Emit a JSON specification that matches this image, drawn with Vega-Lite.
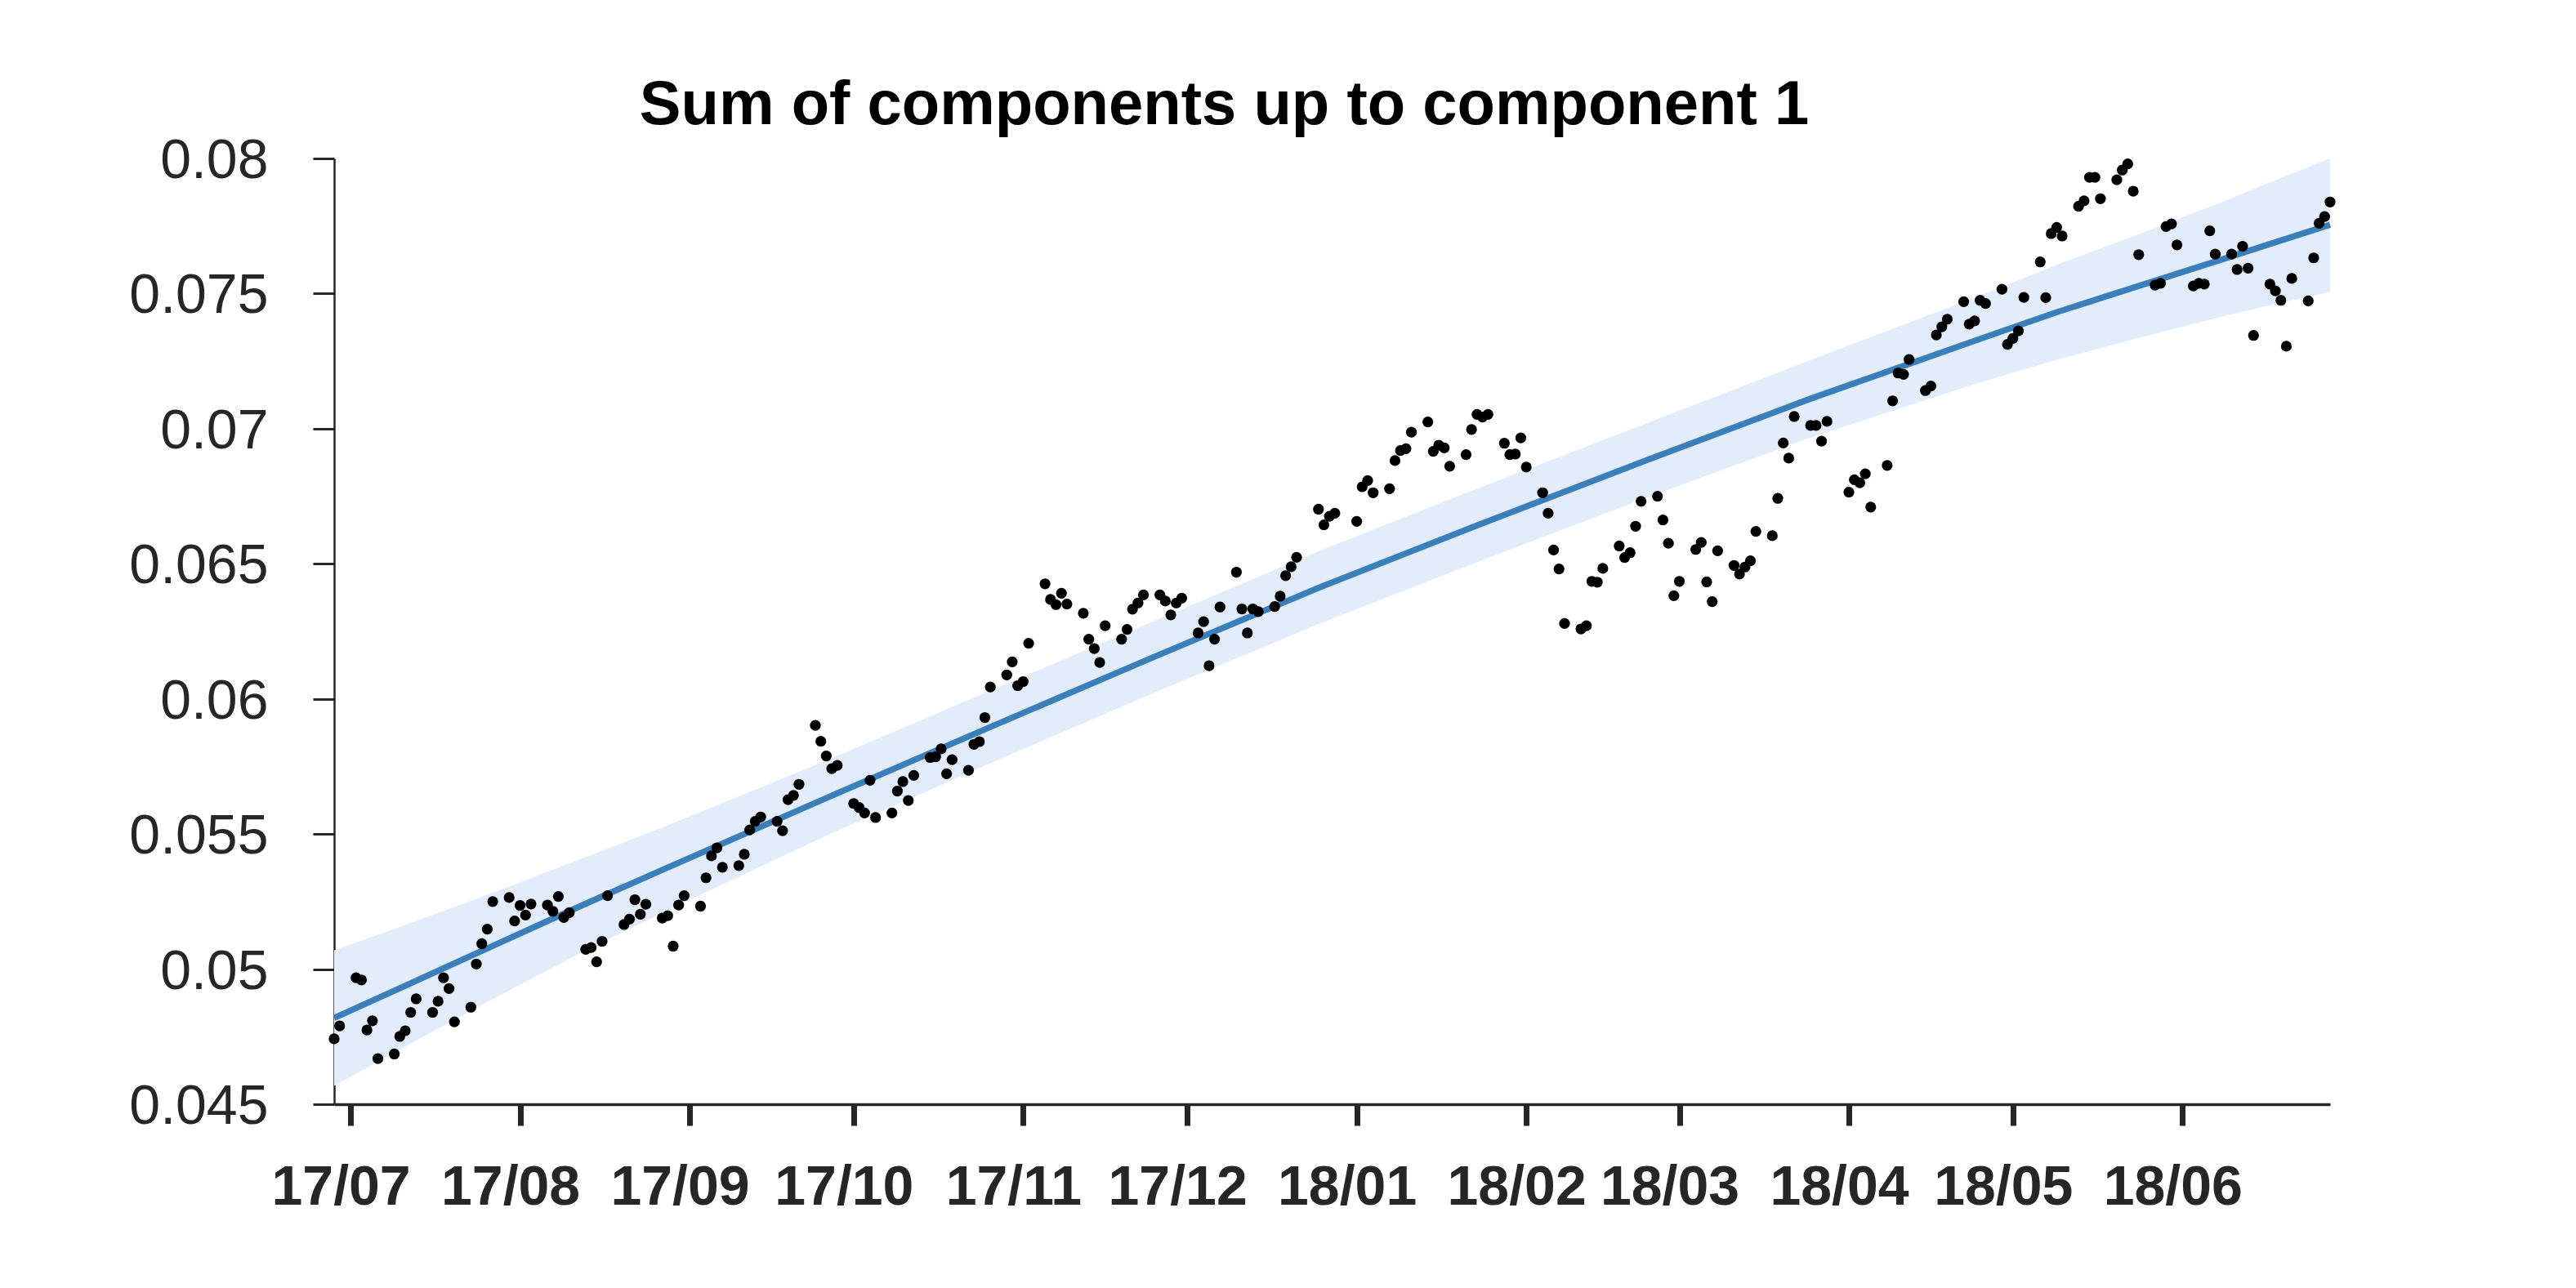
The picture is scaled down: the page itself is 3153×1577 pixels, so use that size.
{
  "$schema": "https://vega.github.io/schema/vega-lite/v6.json",
  "width": 2443,
  "height": 1158,
  "autosize": {"type": "none"},
  "padding": {"left": 409, "top": 194, "right": 301, "bottom": 225},
  "background": "white",
  "config": {"view": {"stroke": null}},
  "title": {
    "text": "Sum of components up to component 1",
    "font": "Liberation Sans",
    "fontSize": 76,
    "fontWeight": "bold",
    "color": "#000000",
    "anchor": "middle",
    "frame": "group",
    "dx": -132,
    "dy": 74,
    "baseline": "alphabetic",
    "offset": 10
  },
  "datasets": {
    "points": [
      {"date": "2017-06-28", "value": 0.04742},
      {"date": "2017-06-29", "value": 0.04790},
      {"date": "2017-07-02", "value": 0.04968},
      {"date": "2017-07-03", "value": 0.04960},
      {"date": "2017-07-04", "value": 0.04775},
      {"date": "2017-07-05", "value": 0.04809},
      {"date": "2017-07-06", "value": 0.04669},
      {"date": "2017-07-09", "value": 0.04686},
      {"date": "2017-07-10", "value": 0.04751},
      {"date": "2017-07-11", "value": 0.04772},
      {"date": "2017-07-12", "value": 0.04840},
      {"date": "2017-07-13", "value": 0.04890},
      {"date": "2017-07-16", "value": 0.04840},
      {"date": "2017-07-17", "value": 0.04881},
      {"date": "2017-07-18", "value": 0.04968},
      {"date": "2017-07-19", "value": 0.04928},
      {"date": "2017-07-20", "value": 0.04805},
      {"date": "2017-07-23", "value": 0.04859},
      {"date": "2017-07-24", "value": 0.05019},
      {"date": "2017-07-25", "value": 0.05094},
      {"date": "2017-07-26", "value": 0.05148},
      {"date": "2017-07-27", "value": 0.05250},
      {"date": "2017-07-30", "value": 0.05265},
      {"date": "2017-07-31", "value": 0.05178},
      {"date": "2017-08-01", "value": 0.05236},
      {"date": "2017-08-02", "value": 0.05200},
      {"date": "2017-08-03", "value": 0.05241},
      {"date": "2017-08-06", "value": 0.05237},
      {"date": "2017-08-07", "value": 0.05214},
      {"date": "2017-08-08", "value": 0.05269},
      {"date": "2017-08-09", "value": 0.05191},
      {"date": "2017-08-10", "value": 0.05209},
      {"date": "2017-08-13", "value": 0.05073},
      {"date": "2017-08-14", "value": 0.05080},
      {"date": "2017-08-15", "value": 0.05027},
      {"date": "2017-08-16", "value": 0.05103},
      {"date": "2017-08-17", "value": 0.05272},
      {"date": "2017-08-20", "value": 0.05165},
      {"date": "2017-08-21", "value": 0.05185},
      {"date": "2017-08-22", "value": 0.05257},
      {"date": "2017-08-23", "value": 0.05203},
      {"date": "2017-08-24", "value": 0.05240},
      {"date": "2017-08-27", "value": 0.05189},
      {"date": "2017-08-28", "value": 0.05198},
      {"date": "2017-08-29", "value": 0.05085},
      {"date": "2017-08-30", "value": 0.05237},
      {"date": "2017-08-31", "value": 0.05272},
      {"date": "2017-09-03", "value": 0.05233},
      {"date": "2017-09-04", "value": 0.05338},
      {"date": "2017-09-05", "value": 0.05419},
      {"date": "2017-09-06", "value": 0.05449},
      {"date": "2017-09-07", "value": 0.05377},
      {"date": "2017-09-10", "value": 0.05383},
      {"date": "2017-09-11", "value": 0.05425},
      {"date": "2017-09-12", "value": 0.05515},
      {"date": "2017-09-13", "value": 0.05547},
      {"date": "2017-09-14", "value": 0.05563},
      {"date": "2017-09-17", "value": 0.05547},
      {"date": "2017-09-18", "value": 0.05512},
      {"date": "2017-09-19", "value": 0.05627},
      {"date": "2017-09-20", "value": 0.05643},
      {"date": "2017-09-21", "value": 0.05684},
      {"date": "2017-09-24", "value": 0.05902},
      {"date": "2017-09-25", "value": 0.05843},
      {"date": "2017-09-26", "value": 0.05789},
      {"date": "2017-09-27", "value": 0.05742},
      {"date": "2017-09-28", "value": 0.05754},
      {"date": "2017-10-01", "value": 0.05613},
      {"date": "2017-10-02", "value": 0.05598},
      {"date": "2017-10-03", "value": 0.05578},
      {"date": "2017-10-04", "value": 0.05699},
      {"date": "2017-10-05", "value": 0.05561},
      {"date": "2017-10-08", "value": 0.05578},
      {"date": "2017-10-09", "value": 0.05659},
      {"date": "2017-10-10", "value": 0.05694},
      {"date": "2017-10-11", "value": 0.05624},
      {"date": "2017-10-12", "value": 0.05717},
      {"date": "2017-10-15", "value": 0.05783},
      {"date": "2017-10-16", "value": 0.05786},
      {"date": "2017-10-17", "value": 0.05815},
      {"date": "2017-10-18", "value": 0.05723},
      {"date": "2017-10-19", "value": 0.05775},
      {"date": "2017-10-22", "value": 0.05736},
      {"date": "2017-10-23", "value": 0.05832},
      {"date": "2017-10-24", "value": 0.05842},
      {"date": "2017-10-25", "value": 0.05931},
      {"date": "2017-10-26", "value": 0.06044},
      {"date": "2017-10-29", "value": 0.06089},
      {"date": "2017-10-30", "value": 0.06137},
      {"date": "2017-10-31", "value": 0.06049},
      {"date": "2017-11-01", "value": 0.06064},
      {"date": "2017-11-02", "value": 0.06206},
      {"date": "2017-11-05", "value": 0.06426},
      {"date": "2017-11-06", "value": 0.06368},
      {"date": "2017-11-07", "value": 0.06349},
      {"date": "2017-11-08", "value": 0.06391},
      {"date": "2017-11-09", "value": 0.06351},
      {"date": "2017-11-12", "value": 0.06317},
      {"date": "2017-11-13", "value": 0.06221},
      {"date": "2017-11-14", "value": 0.06186},
      {"date": "2017-11-15", "value": 0.06135},
      {"date": "2017-11-16", "value": 0.06271},
      {"date": "2017-11-19", "value": 0.06221},
      {"date": "2017-11-20", "value": 0.06257},
      {"date": "2017-11-21", "value": 0.06332},
      {"date": "2017-11-22", "value": 0.06355},
      {"date": "2017-11-23", "value": 0.06385},
      {"date": "2017-11-26", "value": 0.06385},
      {"date": "2017-11-27", "value": 0.06362},
      {"date": "2017-11-28", "value": 0.06311},
      {"date": "2017-11-29", "value": 0.06355},
      {"date": "2017-11-30", "value": 0.06373},
      {"date": "2017-12-03", "value": 0.06244},
      {"date": "2017-12-04", "value": 0.06286},
      {"date": "2017-12-05", "value": 0.06123},
      {"date": "2017-12-06", "value": 0.06221},
      {"date": "2017-12-07", "value": 0.06340},
      {"date": "2017-12-10", "value": 0.06469},
      {"date": "2017-12-11", "value": 0.06333},
      {"date": "2017-12-12", "value": 0.06244},
      {"date": "2017-12-13", "value": 0.06333},
      {"date": "2017-12-14", "value": 0.06323},
      {"date": "2017-12-17", "value": 0.06342},
      {"date": "2017-12-18", "value": 0.06380},
      {"date": "2017-12-19", "value": 0.06456},
      {"date": "2017-12-20", "value": 0.06489},
      {"date": "2017-12-21", "value": 0.06524},
      {"date": "2017-12-25", "value": 0.06702},
      {"date": "2017-12-26", "value": 0.06644},
      {"date": "2017-12-27", "value": 0.06676},
      {"date": "2017-12-28", "value": 0.06687},
      {"date": "2018-01-01", "value": 0.06657},
      {"date": "2018-01-02", "value": 0.06785},
      {"date": "2018-01-03", "value": 0.06808},
      {"date": "2018-01-04", "value": 0.06763},
      {"date": "2018-01-07", "value": 0.06778},
      {"date": "2018-01-08", "value": 0.06882},
      {"date": "2018-01-09", "value": 0.06919},
      {"date": "2018-01-10", "value": 0.06926},
      {"date": "2018-01-11", "value": 0.06987},
      {"date": "2018-01-14", "value": 0.07025},
      {"date": "2018-01-15", "value": 0.06916},
      {"date": "2018-01-16", "value": 0.06939},
      {"date": "2018-01-17", "value": 0.06929},
      {"date": "2018-01-18", "value": 0.06861},
      {"date": "2018-01-21", "value": 0.06904},
      {"date": "2018-01-22", "value": 0.06997},
      {"date": "2018-01-23", "value": 0.07053},
      {"date": "2018-01-24", "value": 0.07043},
      {"date": "2018-01-25", "value": 0.07053},
      {"date": "2018-01-28", "value": 0.06946},
      {"date": "2018-01-29", "value": 0.06904},
      {"date": "2018-01-30", "value": 0.06906},
      {"date": "2018-01-31", "value": 0.06966},
      {"date": "2018-02-01", "value": 0.06858},
      {"date": "2018-02-04", "value": 0.06763},
      {"date": "2018-02-05", "value": 0.06687},
      {"date": "2018-02-06", "value": 0.06551},
      {"date": "2018-02-07", "value": 0.06481},
      {"date": "2018-02-08", "value": 0.06279},
      {"date": "2018-02-11", "value": 0.06259},
      {"date": "2018-02-12", "value": 0.06271},
      {"date": "2018-02-13", "value": 0.06435},
      {"date": "2018-02-14", "value": 0.06432},
      {"date": "2018-02-15", "value": 0.06483},
      {"date": "2018-02-18", "value": 0.06566},
      {"date": "2018-02-19", "value": 0.06523},
      {"date": "2018-02-20", "value": 0.06541},
      {"date": "2018-02-21", "value": 0.06639},
      {"date": "2018-02-22", "value": 0.06731},
      {"date": "2018-02-25", "value": 0.06750},
      {"date": "2018-02-26", "value": 0.06662},
      {"date": "2018-02-27", "value": 0.06576},
      {"date": "2018-02-28", "value": 0.06382},
      {"date": "2018-03-01", "value": 0.06435},
      {"date": "2018-03-04", "value": 0.06553},
      {"date": "2018-03-05", "value": 0.06579},
      {"date": "2018-03-06", "value": 0.06433},
      {"date": "2018-03-07", "value": 0.06360},
      {"date": "2018-03-08", "value": 0.06548},
      {"date": "2018-03-11", "value": 0.06494},
      {"date": "2018-03-12", "value": 0.06462},
      {"date": "2018-03-13", "value": 0.06488},
      {"date": "2018-03-14", "value": 0.06511},
      {"date": "2018-03-15", "value": 0.06620},
      {"date": "2018-03-18", "value": 0.06604},
      {"date": "2018-03-19", "value": 0.06742},
      {"date": "2018-03-20", "value": 0.06947},
      {"date": "2018-03-21", "value": 0.06891},
      {"date": "2018-03-22", "value": 0.07045},
      {"date": "2018-03-25", "value": 0.07012},
      {"date": "2018-03-26", "value": 0.07012},
      {"date": "2018-03-27", "value": 0.06954},
      {"date": "2018-03-28", "value": 0.07027},
      {"date": "2018-04-01", "value": 0.06765},
      {"date": "2018-04-02", "value": 0.06811},
      {"date": "2018-04-03", "value": 0.06800},
      {"date": "2018-04-04", "value": 0.06833},
      {"date": "2018-04-05", "value": 0.06710},
      {"date": "2018-04-08", "value": 0.06864},
      {"date": "2018-04-09", "value": 0.07103},
      {"date": "2018-04-10", "value": 0.07206},
      {"date": "2018-04-11", "value": 0.07201},
      {"date": "2018-04-12", "value": 0.07256},
      {"date": "2018-04-15", "value": 0.07141},
      {"date": "2018-04-16", "value": 0.07158},
      {"date": "2018-04-17", "value": 0.07347},
      {"date": "2018-04-18", "value": 0.07377},
      {"date": "2018-04-19", "value": 0.07405},
      {"date": "2018-04-22", "value": 0.07470},
      {"date": "2018-04-23", "value": 0.07387},
      {"date": "2018-04-24", "value": 0.07399},
      {"date": "2018-04-25", "value": 0.07475},
      {"date": "2018-04-26", "value": 0.07463},
      {"date": "2018-04-29", "value": 0.07516},
      {"date": "2018-04-30", "value": 0.07312},
      {"date": "2018-05-01", "value": 0.07334},
      {"date": "2018-05-02", "value": 0.07362},
      {"date": "2018-05-03", "value": 0.07486},
      {"date": "2018-05-06", "value": 0.07617},
      {"date": "2018-05-07", "value": 0.07485},
      {"date": "2018-05-08", "value": 0.07722},
      {"date": "2018-05-09", "value": 0.07745},
      {"date": "2018-05-10", "value": 0.07713},
      {"date": "2018-05-13", "value": 0.07823},
      {"date": "2018-05-14", "value": 0.07843},
      {"date": "2018-05-15", "value": 0.07930},
      {"date": "2018-05-16", "value": 0.07930},
      {"date": "2018-05-17", "value": 0.07851},
      {"date": "2018-05-20", "value": 0.07921},
      {"date": "2018-05-21", "value": 0.07957},
      {"date": "2018-05-22", "value": 0.07980},
      {"date": "2018-05-23", "value": 0.07879},
      {"date": "2018-05-24", "value": 0.07644},
      {"date": "2018-05-27", "value": 0.07531},
      {"date": "2018-05-28", "value": 0.07538},
      {"date": "2018-05-29", "value": 0.07748},
      {"date": "2018-05-30", "value": 0.07758},
      {"date": "2018-05-31", "value": 0.07680},
      {"date": "2018-06-03", "value": 0.07528},
      {"date": "2018-06-04", "value": 0.07538},
      {"date": "2018-06-05", "value": 0.07535},
      {"date": "2018-06-06", "value": 0.07732},
      {"date": "2018-06-07", "value": 0.07646},
      {"date": "2018-06-10", "value": 0.07646},
      {"date": "2018-06-11", "value": 0.07589},
      {"date": "2018-06-12", "value": 0.07675},
      {"date": "2018-06-13", "value": 0.07594},
      {"date": "2018-06-14", "value": 0.07345},
      {"date": "2018-06-17", "value": 0.07535},
      {"date": "2018-06-18", "value": 0.07510},
      {"date": "2018-06-19", "value": 0.07475},
      {"date": "2018-06-20", "value": 0.07305},
      {"date": "2018-06-21", "value": 0.07556},
      {"date": "2018-06-24", "value": 0.07473},
      {"date": "2018-06-25", "value": 0.07632},
      {"date": "2018-06-26", "value": 0.07760},
      {"date": "2018-06-27", "value": 0.07785},
      {"date": "2018-06-28", "value": 0.07839}
    ],
    "fit": [
      {"date": "2017-06-28", "fit": 0.04819, "lower": 0.04568, "upper": 0.05070},
      {"date": "2017-07-13", "fit": 0.04957, "lower": 0.04736, "upper": 0.05178},
      {"date": "2017-07-28", "fit": 0.05095, "lower": 0.04900, "upper": 0.05290},
      {"date": "2017-08-12", "fit": 0.05233, "lower": 0.05059, "upper": 0.05407},
      {"date": "2017-08-27", "fit": 0.05367, "lower": 0.05209, "upper": 0.05524},
      {"date": "2017-09-26", "fit": 0.05633, "lower": 0.05494, "upper": 0.05772},
      {"date": "2017-10-26", "fit": 0.05896, "lower": 0.05762, "upper": 0.06031},
      {"date": "2017-11-25", "fit": 0.06156, "lower": 0.06023, "upper": 0.06289},
      {"date": "2017-12-25", "fit": 0.06411, "lower": 0.06277, "upper": 0.06546},
      {"date": "2018-01-24", "fit": 0.06650, "lower": 0.06514, "upper": 0.06786},
      {"date": "2018-02-23", "fit": 0.06883, "lower": 0.06745, "upper": 0.07020},
      {"date": "2018-03-25", "fit": 0.07111, "lower": 0.06967, "upper": 0.07254},
      {"date": "2018-04-24", "fit": 0.07325, "lower": 0.07165, "upper": 0.07485},
      {"date": "2018-05-09", "fit": 0.07431, "lower": 0.07255, "upper": 0.07606},
      {"date": "2018-05-24", "fit": 0.07528, "lower": 0.07336, "upper": 0.07720},
      {"date": "2018-06-08", "fit": 0.07625, "lower": 0.07414, "upper": 0.07837},
      {"date": "2018-06-18", "fit": 0.07690, "lower": 0.07461, "upper": 0.07920},
      {"date": "2018-06-28", "fit": 0.07755, "lower": 0.07506, "upper": 0.08000}
    ]
  },
  "encoding": {
    "x": {
      "field": "date",
      "type": "temporal",
      "scale": {
        "type": "utc",
        "nice": false,
        "domain": [
          {"year": 2017, "month": 6, "date": 28, "utc": true},
          {"year": 2018, "month": 6, "date": 28, "utc": true}
        ]
      },
      "axis": {
        "title": null,
        "format": "%y/%m",
        "tickCount": {"interval": "month", "step": 1},
        "grid": false,
        "domainColor": "#262626",
        "domainWidth": 3.5,
        "tickColor": "#262626",
        "tickWidth": 7,
        "tickSize": 26,
        "labelFont": "Liberation Sans",
        "labelFontSize": 68,
        "labelFontWeight": "bold",
        "labelColor": "#262626",
        "labelPadding": 42,
        "labelOffset": -12,
        "labelFlush": false,
        "labelOverlap": false
      }
    }
  },
  "layer": [
    {
      "data": {"name": "fit"},
      "mark": {"type": "area", "color": "#e3ecfd", "opacity": 1},
      "encoding": {
        "y": {"field": "lower", "type": "quantitative"},
        "y2": {"field": "upper"}
      }
    },
    {
      "data": {"name": "fit"},
      "mark": {"type": "line", "color": "#3a7fba", "strokeWidth": 7.5},
      "encoding": {
        "y": {"field": "fit", "type": "quantitative"}
      }
    },
    {
      "data": {"name": "points"},
      "mark": {"type": "circle", "color": "#000000", "opacity": 1, "size": 175},
      "encoding": {
        "y": {
          "field": "value",
          "type": "quantitative",
          "scale": {"domain": [0.045, 0.08], "nice": false, "zero": false},
          "axis": {
            "title": null,
            "values": [0.045, 0.05, 0.055, 0.06, 0.065, 0.07, 0.075, 0.08],
            "format": "~g",
            "grid": false,
            "domainColor": "#262626",
            "domainWidth": 2.5,
            "tickColor": "#262626",
            "tickWidth": 3,
            "tickSize": 26,
            "labelFont": "Liberation Sans",
            "labelFontSize": 68,
            "labelColor": "#262626",
            "labelPadding": 55,
            "labelOffset": 3.5
          }
        }
      }
    }
  ],
  "resolve": {"scale": {"y": "shared"}}
}
